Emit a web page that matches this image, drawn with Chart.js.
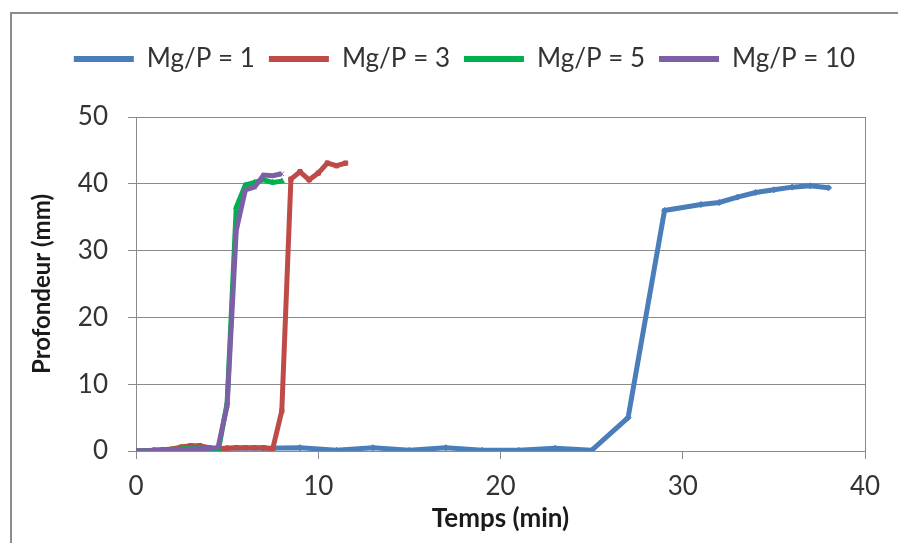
<!DOCTYPE html>
<html>
<head>
<meta charset="utf-8">
<script src="https://cdn.jsdelivr.net/npm/chart.js@4"></script>
<style>
  html, body { margin: 0; padding: 0; background: #fff; }
  #wrap { width: 898px; height: 543px; }
</style>
</head>
<body>
<div id="wrap"><canvas id="depthChart" width="898" height="543"></canvas></div>
<script>
// Mg/P = 1
const timeMg1 = [0, 1, 3, 5, 7, 9, 11, 13, 15, 17, 19, 21, 23, 25, 27, 29, 31, 32, 33, 34, 35, 36, 37, 38];
const depthMg1 = [0, 0.1, 0.3, 0.4, 0.4, 0.5, 0.1, 0.5, 0.1, 0.5, 0.1, 0.1, 0.4, 0.1, 5, 36, 36.9, 37.2, 38, 38.7, 39.1, 39.5, 39.7, 39.4];

// Mg/P = 3
const timeMg3 = [0, 0.5, 1, 1.5, 2, 2.5, 3, 3.5, 4, 4.5, 5, 5.5, 6, 6.5, 7, 7.5, 8, 8.5, 9, 9.5, 10, 10.5, 11, 11.5];
const depthMg3 = [0, 0, 0.1, 0.2, 0.3, 0.6, 0.8, 0.8, 0.5, 0.3, 0.4, 0.5, 0.5, 0.5, 0.5, 0.3, 6, 40.7, 41.8, 40.6, 41.6, 43.1, 42.7, 43.1];

// Mg/P = 5
const timeMg5 = [0, 0.5, 1, 1.5, 2, 2.5, 3, 3.5, 4, 4.5, 5, 5.5, 6, 6.5, 7, 7.5, 8];
const depthMg5 = [0, 0, 0, 0.1, 0.2, 0.3, 0.4, 0.4, -0.2, -0.2, 7.2, 36.5, 39.8, 40.2, 40.6, 40.2, 40.4];

// Mg/P = 10
const timeMg10 = [0, 0.5, 1, 1.5, 2, 2.5, 3, 3.5, 4, 4.5, 5, 5.5, 6, 6.5, 7, 7.5, 8];
const depthMg10 = [0, 0, 0.1, 0.1, 0.2, 0.2, 0.3, 0.3, 0.4, 0.5, 6.8, 33, 39.1, 39.5, 41.3, 41.2, 41.5];

const seriesLabels = ['Mg/P = 1', 'Mg/P = 3', 'Mg/P = 5', 'Mg/P = 10'];
const xTicks = [0, 10, 20, 30, 40];
const yTicks = [0, 10, 20, 30, 40, 50];

const FONT = 'Lato, "Noto Sans", sans-serif';
const TEXT = '#333333';
const GRID = '#8a8a8a';

const toPoints = (xs, ys) => xs.map((x, i) => ({ x: x, y: ys[i] }));

const makeSet = (label, xs, ys, color, style, order) => ({
    label: label,
    data: toPoints(xs, ys),
    borderColor: color,
    backgroundColor: color,
    borderWidth: 5,
    pointStyle: style,
    pointRadius: 3,
    pointBorderWidth: 1,
    tension: 0,
    order: order
});

// outer frame of the chart object
const framePlugin = {
    id: 'frame',
    beforeDraw(chart) {
        const ctx = chart.ctx;
        ctx.save();
        ctx.fillStyle = '#fff';
        ctx.fillRect(0, 0, chart.width, chart.height);
        ctx.strokeStyle = '#8c8c8c';
        ctx.lineWidth = 2;
        ctx.beginPath();
        ctx.moveTo(11, chart.height);
        ctx.lineTo(11, 13);
        ctx.lineTo(chart.width, 13);
        ctx.stroke();
        ctx.restore();
    }
};

// room between legend and plot, and nudge the legend to the right
const legendSpace = {
    id: 'legendSpace',
    beforeInit(chart) {
        const fit = chart.legend.fit;
        chart.legend.fit = function () {
            fit.bind(chart.legend)();
            this.height = 117 - 32;
        };
    },
    afterLayout(chart) {
        chart.legend.left += 18;
        chart.legend.right += 18;
    }
};

new Chart(document.getElementById('depthChart').getContext('2d'), {
    type: 'line',
    data: {
        datasets: [
            makeSet(seriesLabels[0], timeMg1, depthMg1, '#4a7ebb', 'rectRot', 3),
            makeSet(seriesLabels[1], timeMg3, depthMg3, '#be4b48', 'rect', 2),
            makeSet(seriesLabels[2], timeMg5, depthMg5, '#00b050', 'triangle', 1),
            makeSet(seriesLabels[3], timeMg10, depthMg10, '#7d5fa5', 'crossRot', 0)
        ]
    },
    options: {
        responsive: false,
        animation: false,
        layout: { padding: { top: 32, left: 28, right: 33, bottom: 9 } },
        scales: {
            x: {
                type: 'linear',
                min: 0,
                max: 40,
                afterBuildTicks: (scale) => { scale.ticks = xTicks.map(v => ({ value: v })); },
                afterFit: (scale) => { scale.height = 543 - 9 - 451; },
                border: { display: true, color: GRID, width: 1 },
                grid: {
                    drawOnChartArea: true,
                    color: (c) => (c.tick && c.tick.value === 40 ? GRID : 'rgba(0,0,0,0)'),
                    tickColor: GRID,
                    tickLength: 8
                },
                ticks: { color: TEXT, font: { family: FONT, size: 26 }, padding: 12, maxRotation: 0 },
                title: {
                    display: true,
                    text: 'Temps (min)',
                    color: '#1a1a1a',
                    font: { family: FONT, size: 26, weight: 'bold' },
                    padding: { top: 0, bottom: 0 }
                }
            },
            y: {
                min: 0,
                max: 50,
                afterBuildTicks: (scale) => { scale.ticks = yTicks.map(v => ({ value: v })); },
                afterFit: (scale) => { scale.width = 136 - 28; },
                border: { display: true, color: GRID, width: 1 },
                grid: { color: GRID, tickColor: GRID, tickLength: 8 },
                ticks: { color: TEXT, font: { family: FONT, size: 26 }, padding: 20 },
                title: {
                    display: true,
                    text: 'Profondeur (mm)',
                    color: '#1a1a1a',
                    font: { family: FONT, size: 24, weight: 'bold' },
                    padding: { top: 0, bottom: 0 }
                }
            }
        },
        plugins: {
            legend: {
                position: 'top',
                labels: {
                    usePointStyle: true,
                    pointStyle: 'line',
                    pointStyleWidth: 60,
                    padding: 14,
                    color: TEXT,
                    font: { family: FONT, size: 26 },
                    sort: (a, b) => a.datasetIndex - b.datasetIndex,
                    generateLabels: (chart) => Chart.defaults.plugins.legend.labels.generateLabels(chart)
                        .map(item => Object.assign(item, { lineWidth: 6, strokeStyle: item.fillStyle }))
                }
            },
            tooltip: { enabled: false }
        }
    },
    plugins: [framePlugin, legendSpace]
});
</script>
</body>
</html>
